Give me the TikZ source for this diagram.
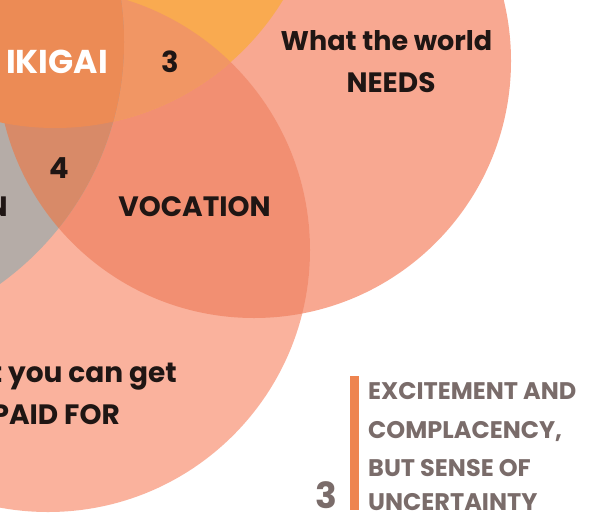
\documentclass[tikz,border=0pt]{standalone}
\usepackage{fontspec}
\setmainfont{Poppins}
\definecolor{ikigaiC}{HTML}{EC8B55}
\definecolor{missionC}{HTML}{F9AA50}
\definecolor{threeC}{HTML}{F19664}
\definecolor{vocationC}{HTML}{F28F72}
\definecolor{needsC}{HTML}{F8A891}
\definecolor{paidC}{HTML}{FAB29D}
\definecolor{profC}{HTML}{B5ACA7}
\definecolor{fourC}{HTML}{D88A68}
\definecolor{inkC}{HTML}{1F1614}
\definecolor{legendC}{HTML}{7A6C6A}
\definecolor{barC}{HTML}{EE8450}
\tikzset{
  % the four circles of the diagram (pixel units, y downwards)
  circT/.style={insert path={(55,-139) circle[radius=267pt]}},
  circR/.style={insert path={(254,61) circle[radius=257pt]}},
  circB/.style={insert path={(48,250) circle[radius=262pt]}},
  circL/.style={insert path={(-174,42) circle[radius=298pt]}},
  lbl/.style={inner sep=0pt, text=inkC, font=\bfseries\fontsize{28}{28}\selectfont},
  num/.style={inner sep=0pt, text=inkC, font=\bfseries\fontsize{29}{29}\selectfont},
  legend/.style={inner sep=0pt, text=legendC, anchor=base west, font=\bfseries\fontsize{24}{24}\selectfont},
}
\begin{document}
\begin{tikzpicture}[x=1pt,y=-1pt]
\useasboundingbox (0,0) rectangle (596,519);
\clip (0,0) rectangle (596,519);
\fill[white] (0,0) rectangle (596,519);
% single circles
\fill[needsC][circR];
\fill[paidC][circB];
% overlaps
\begin{scope}
  \clip[circR];
  \fill[vocationC][circB];
\end{scope}
\begin{scope}
  \clip[circT];
  \fill[missionC][circR];
\end{scope}
\begin{scope}
  \clip[circT];
  \clip[circR];
  \fill[threeC][circB];
\end{scope}
\begin{scope}
  \clip[circL];
  \fill[profC][circB];
\end{scope}
\begin{scope}
  \clip[circL];
  \clip[circB];
  \fill[fourC][circR];
\end{scope}
\begin{scope}
  \clip[circL];
  \clip[circB];
  \fill[ikigaiC][circT];
\end{scope}
% labels
\node[lbl, text=white, anchor=base, font=\bfseries\fontsize{33}{33}\selectfont] (ikigai) at (57,73) {IKIGAI};
\node[num, anchor=base] (n3) at (170,72) {3};
\node[num, anchor=base] (n4) at (59,178) {4};
\node[lbl, anchor=base] (vocation) at (194.5,216) {VOCATION};
\node[lbl, anchor=base east] (profession) at (8,216) {PROFESSION};
\node[lbl, anchor=base, font=\bfseries\fontsize{27}{27}\selectfont] (needs1) at (386.5,50) {What the world};
\node[lbl, anchor=base] (needs2) at (391,92) {NEEDS};
\node[lbl, anchor=base east] (paid1) at (177,382) {What you can get};
\node[lbl, anchor=base east] (paid2) at (120,424) {PAID FOR};
% legend entry
\fill[barC] (349.5,376) rectangle (358.5,510);
\node[inner sep=0pt, text=legendC, anchor=base west, font=\bfseries\fontsize{36}{36}\selectfont] (stage) at (315,508) {3};
\node[legend] (l1) at (368,399) {EXCITEMENT AND};
\node[legend] (l2) at (368,438) {COMPLACENCY,};
\node[legend] (l3) at (368,476) {BUT SENSE OF};
\node[legend] (l4) at (368,510) {UNCERTAINTY};
\end{tikzpicture}
\end{document}
